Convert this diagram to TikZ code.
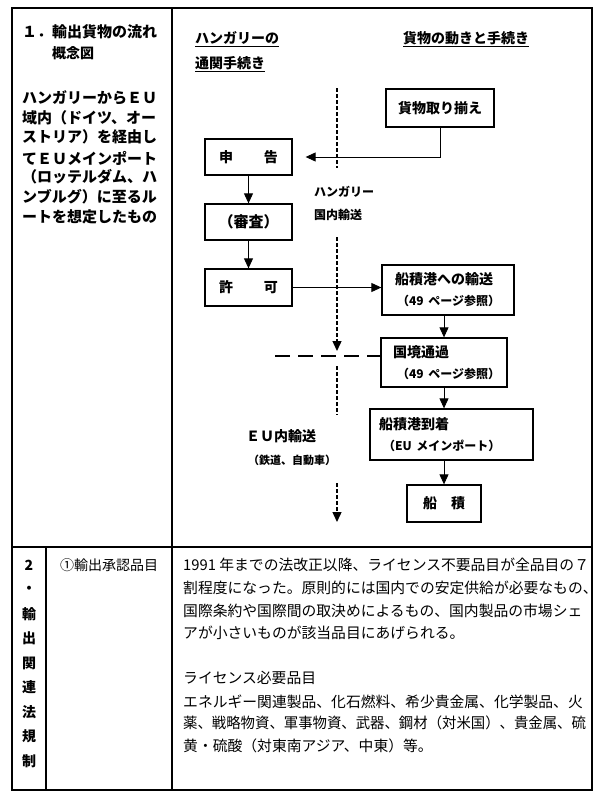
\documentclass[tikz,border=0pt]{standalone}
\usepackage{fontspec}
\newfontfamily\jp{Noto Sans CJK JP}
\usetikzlibrary{arrows.meta}
\tikzset{
  frame/.style={line width=1.4pt},
  grid/.style={line width=1.2pt},
  box/.style={draw, line width=1.3pt, inner sep=0pt, font=\jp\bfseries\fontsize{14}{21}\selectfont},
  mbox/.style={box, align=left},
  conn/.style={line width=0.9pt},
  arr/.style={line width=0.9pt, -{Triangle[length=10pt,width=9pt]}},
  darr/.style={dline, -{Triangle[length=10pt,width=9pt]}},
  dline/.style={line width=1.4pt, dash pattern=on 4pt off 2pt},
  hdash/.style={line width=1.7pt, dash pattern=on 15pt off 8pt},
  hdr/.style={inner sep=0pt, anchor=west, font=\jp\bfseries\fontsize{14}{16}\selectfont},
  ltext/.style={inner sep=0pt, anchor=west, font=\jp\bfseries\fontsize{15}{17}\selectfont},
  small/.style={inner sep=0pt, anchor=west, font=\jp\bfseries\fontsize{12}{14}\selectfont},
  body/.style={inner sep=0pt, anchor=west, font=\jp\fontsize{14.8}{17}\selectfont},
  vchar/.style={inner sep=0pt, font=\jp\bfseries\fontsize{14}{16}\selectfont},
  uline/.style={line width=0.9pt}
}
\newcommand{\sm}[1]{\mbox{\fontsize{12}{14}\selectfont #1}}
\begin{document}
\begin{tikzpicture}[x=1pt,y=-1pt]
\useasboundingbox[fill=white] (0,0) rectangle (600,798);
% table
\draw[frame] (12,8) rectangle (592,790);
\draw[grid] (172,8) -- (172,790);
\draw[grid] (12,547) -- (592,547);
\draw[grid] (46,547) -- (46,790);
% row 1 left column
\node[ltext] (t1) at (22,32) {１．輸出貨物の流れ};
\node[ltext, font=\jp\bfseries\fontsize{14}{16}\selectfont] (t2) at (52,53) {概念図};
\node[ltext] (p1) at (22,98) {ハンガリーからＥＵ};
\node[ltext] (p2) at (22,118) {域内（ドイツ、オー};
\node[ltext] (p3) at (22,137) {ストリア）を経由し};
\node[ltext] (p4) at (22,158) {てＥＵメインポート};
\node[ltext] (p5) at (22,177) {（ロッテルダム、ハ};
\node[ltext] (p6) at (22,197) {ンブルグ）に至るル};
\node[ltext] (p7) at (22,217) {ートを想定したもの};
% headers
\node[hdr] (h1) at (195,38) {ハンガリーの};
\node[hdr] (h2) at (195,63) {通関手続き};
\node[hdr] (h3) at (403,38) {貨物の動きと手続き};
\foreach \h in {h1,h2,h3}
  \draw[uline] ([yshift=-1.5pt]\h.south west) -- ([yshift=-1.5pt]\h.south east);
% boxes
\node[box, minimum width=108pt, minimum height=38pt] (kamotsu) at (440,108) {貨物取り揃え};
\node[box, minimum width=87pt, minimum height=36pt] (shinkoku) at (248.5,157) {申\hspace{31pt}告};
\node[box, minimum width=87pt, minimum height=36pt] (shinsa) at (248.5,222) {\fontsize{15}{16}\selectfont （審査）};
\node[box, minimum width=87pt, minimum height=37pt] (kyoka) at (248.5,287.5) {許\hspace{31pt}可};
\node[mbox, text width=112pt, inner xsep=10pt, minimum height=50pt] (yuso) at (448,290) {\hspace*{3pt}船積港への輸送\\\hspace*{5pt}\sm{（49 ページ参照）}};
\node[mbox, text width=114pt, inner xsep=6pt, minimum height=49pt] (kokkyo) at (444,362.5) {\hspace*{6pt}国境通過\\\hspace*{10pt}\sm{（49 ページ参照）}};
\node[mbox, text width=151pt, inner xsep=6pt, minimum height=51pt] (tochaku) at (451.5,434.5) {\hspace*{3pt}船積港到着\\\hspace*{7pt}\sm{（EU メインポート）}};
\node[box, minimum width=74pt, minimum height=37pt] (funazumi) at (444,503.5) {船\hspace{14pt}積};
% connectors
\draw[arr, shorten >=13pt] (kamotsu.south) |- (shinkoku.east);
\draw[arr] (shinkoku) -- (shinsa);
\draw[arr] (shinsa) -- (kyoka);
\draw[arr] (kyoka.east) -- (yuso.west |- kyoka.east);
\draw[arr] (yuso.south -| funazumi.north) -- (kokkyo.north -| funazumi.north);
\draw[arr] (kokkyo.south -| funazumi.north) -- (tochaku.north -| funazumi.north);
\draw[arr] (tochaku.south -| funazumi.north) -- (funazumi.north);
% dashed route line
\coordinate (d1a) at (337,88);
\coordinate (d1b) at (337,168);
\coordinate (d2a) at (337,237);
\coordinate (d2b) at (337,351);
\coordinate (d3a) at (337,366);
\coordinate (d3b) at (337,415);
\coordinate (d4a) at (337,483);
\coordinate (d4b) at (337,522);
\coordinate (hd) at (275,356);
\draw[dline] (d1a) -- (d1b);
\draw[darr] (d2a) -- (d2b);
\draw[dline] (d3a) -- (d3b);
\draw[darr] (d4a) -- (d4b);
\draw[hdash] (hd) -- (hd -| kokkyo.west);
% route labels
\node[small] (hk1) at (314,192) {ハンガリー};
\node[small] (hk2) at (314,215) {国内輸送};
\node[hdr] (eu1) at (246,436) {ＥＵ内輸送};
\node[small, font=\jp\bfseries\fontsize{11}{13}\selectfont] (eu2) at (248,460) {（鉄道、自動車）};
% row 2
\foreach \c [count=\i] in {2,・,輸,出,関,連,法,規,制}
  \node[vchar] (v\i) at (29,{565+24.5*(\i-1)}) {\c};
\node[inner sep=0pt, anchor=west, font=\jp\fontsize{14}{16}\selectfont] (item) at (60,565) {①輸出承認品目};
\node[body] (b1) at (183,565) {1991 年までの法改正以降、ライセンス不要品目が全品目の７};
\node[body] (b2) at (183,588) {割程度になった。原則的には国内での安定供給が必要なもの、};
\node[body] (b3) at (183,611) {国際条約や国際間の取決めによるもの、国内製品の市場シェ};
\node[body] (b4) at (183,633) {アが小さいものが該当品目にあげられる。};
\node[body] (b5) at (183,678) {ライセンス必要品目};
\node[body] (b6) at (183,702) {エネルギー関連製品、化石燃料、希少貴金属、化学製品、火};
\node[body] (b7) at (183,723) {\scalebox{0.972}[1]{薬、戦略物資、軍事物資、武器、鋼材（対米国）、貴金属、硫}};
\node[body] (b8) at (183,746) {黄・硫酸（対東南アジア、中東）等。};
\end{tikzpicture}
\end{document}
